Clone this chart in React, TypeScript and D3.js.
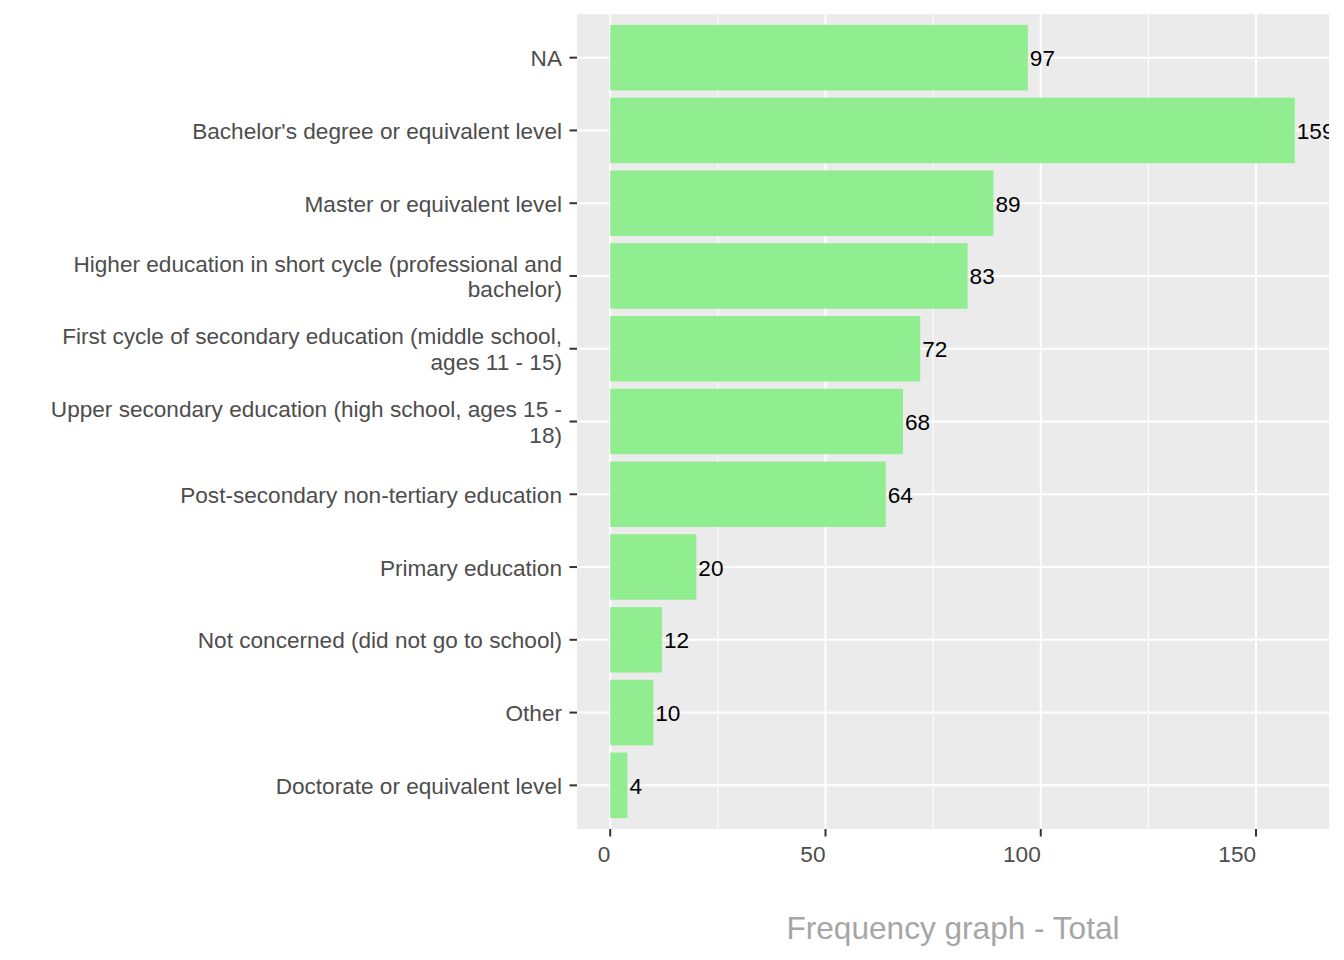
import * as d3 from 'd3'
import React, { useEffect } from 'react'

// categories, top to bottom
const categories = [
  'NA',
  "Bachelor's degree or equivalent level",
  'Master or equivalent level',
  'Higher education in short cycle (professional and bachelor)',
  'First cycle of secondary education (middle school, ages 11 - 15)',
  'Upper secondary education (high school, ages 15 - 18)',
  'Post-secondary non-tertiary education',
  'Primary education',
  'Not concerned (did not go to school)',
  'Other',
  'Doctorate or equivalent level',
]

// how each label is wrapped in the reference
const labelLines = [
  ['NA'],
  ["Bachelor's degree or equivalent level"],
  ['Master or equivalent level'],
  ['Higher education in short cycle (professional and', 'bachelor)'],
  ['First cycle of secondary education (middle school,', 'ages 11 - 15)'],
  ['Upper secondary education (high school, ages 15 -', '18)'],
  ['Post-secondary non-tertiary education'],
  ['Primary education'],
  ['Not concerned (did not go to school)'],
  ['Other'],
  ['Doctorate or equivalent level'],
]

const counts = [97, 159, 89, 83, 72, 68, 64, 20, 12, 10, 4]

const xTicks = [0, 50, 100, 150]
const xMinorTicks = [25, 75, 125]

const title = 'Frequency graph - Total'

const width = 1344
const height = 960
const panel = { left: 577, right: 1329, top: 14, bottom: 829 }
const font = '"Liberation Sans", Arial, sans-serif'
const fontSize = 22.6

export default function App() {
  useEffect(() => {
    document.body.style.margin = '0'
  }, [])

  const maxVal = d3.max(counts) ?? 0
  const pad = maxVal * 0.05
  const x = d3
    .scaleLinear()
    .domain([-pad, maxVal + pad])
    .range([panel.left - 1, panel.right])

  // ggplot discrete expansion: 0.6 units each side, bar width 0.9
  const y = d3
    .scaleBand<string>()
    .domain(categories)
    .range([panel.top, panel.bottom])
    .paddingInner(0.1)
    .paddingOuter(0.15)

  const center = (c: string) => (y(c) ?? 0) + y.bandwidth() / 2
  const lineGap = 25.6

  return (
    <svg width={width} height={height} style={{ display: 'block', fontFamily: font }}>
      <defs>
        <clipPath id="panel-clip">
          <rect
            x={panel.left}
            y={panel.top}
            width={panel.right - panel.left}
            height={panel.bottom - panel.top}
          />
        </clipPath>
      </defs>

      {/* panel background */}
      <rect
        x={panel.left}
        y={panel.top}
        width={panel.right - panel.left}
        height={panel.bottom - panel.top}
        fill="#EBEBEB"
      />

      {/* grid lines */}
      {xMinorTicks.map(t => (
        <line
          key={'mn' + t}
          x1={x(t)}
          x2={x(t)}
          y1={panel.top}
          y2={panel.bottom}
          stroke="#fff"
          strokeWidth={1}
        />
      ))}
      {xTicks.map(t => (
        <line
          key={'mj' + t}
          x1={x(t)}
          x2={x(t)}
          y1={panel.top}
          y2={panel.bottom}
          stroke="#fff"
          strokeWidth={2}
        />
      ))}
      {categories.map(c => (
        <line
          key={'hg' + c}
          x1={panel.left}
          x2={panel.right}
          y1={center(c)}
          y2={center(c)}
          stroke="#fff"
          strokeWidth={2}
        />
      ))}

      <g clipPath="url(#panel-clip)">
        {/* bars */}
        {categories.map((c, i) => (
          <rect
            key={'b' + c}
            x={x(0)}
            y={y(c)}
            width={x(counts[i]) - x(0)}
            height={y.bandwidth()}
            fill="#90EE90"
          />
        ))}
        {/* value labels */}
        {categories.map((c, i) => (
          <text
            key={'v' + c}
            x={x(counts[i]) + 2}
            y={center(c) + 8.5}
            fontSize={fontSize}
            fill="#000"
          >
            {counts[i]}
          </text>
        ))}
      </g>

      {/* y axis ticks and labels */}
      {categories.map((c, i) => {
        const cy = center(c)
        const lines = labelLines[i]
        const first = cy + 8.5 - ((lines.length - 1) * lineGap) / 2
        return (
          <g key={'yl' + c}>
            <line x1={panel.left - 7.5} x2={panel.left} y1={cy} y2={cy} stroke="#333" strokeWidth={2} />
            <text x={562} textAnchor="end" fontSize={fontSize} fill="#4D4D4D">
              {lines.map((l, j) => (
                <tspan key={j} x={562} y={first + j * lineGap}>
                  {l}
                </tspan>
              ))}
            </text>
          </g>
        )
      })}

      {/* x axis ticks and labels */}
      {xTicks.map(t => (
        <g key={'xt' + t}>
          <line
            x1={x(t)}
            x2={x(t)}
            y1={panel.bottom}
            y2={panel.bottom + 7.5}
            stroke="#333"
            strokeWidth={2}
          />
          <text x={x(t)} y={861.5} textAnchor="end" fontSize={fontSize} fill="#4D4D4D">
            {t}
          </text>
        </g>
      ))}

      {/* title under the panel */}
      <text
        x={(panel.left + panel.right) / 2}
        y={938.5}
        textAnchor="middle"
        fontSize={31.6}
        fill="#A6A6A6"
      >
        {title}
      </text>
    </svg>
  )
}
